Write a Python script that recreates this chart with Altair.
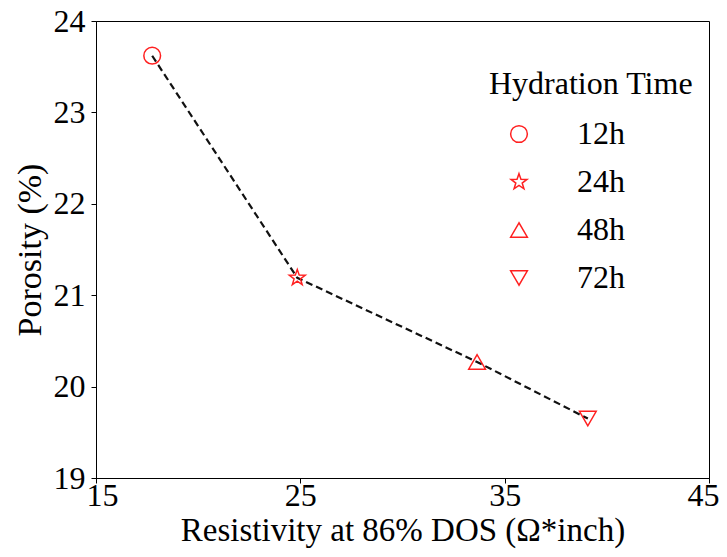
import altair as alt
import pandas as pd

# Data
hydration = ["12h", "24h", "48h", "72h"]
resistivity = [17.75, 24.85, 33.65, 39.07]
porosity = [23.62, 21.19, 20.27, 19.65]

x_ticks = [15, 25, 35, 45]
y_ticks = [19, 20, 21, 22, 23, 24]

STAR = ("M0,-1L0.235,-0.324L0.951,-0.309L0.38,0.124L0.588,0.809L0,0.4"
        "L-0.588,0.809L-0.38,0.124L-0.951,-0.309L-0.235,-0.324Z")
shapes = ["circle", STAR, "triangle-up", "triangle-down"]

df = pd.DataFrame({"t": hydration, "x": resistivity, "y": porosity})

FONT = "Liberation Serif"

xenc = alt.X("x:Q", title="Resistivity at 86% DOS (Ω*inch)",
             scale=alt.Scale(domain=[15, 45], nice=False, zero=False),
             axis=alt.Axis(values=x_ticks, format="d", labelFlush=True, labelFlushOffset=10))
yenc = alt.Y("y:Q", title="Porosity (%)",
             scale=alt.Scale(domain=[19, 24], nice=False, zero=False),
             axis=alt.Axis(values=y_ticks, format="d", labelFlush=False))

line = alt.Chart(df).mark_line(color="#111111", strokeWidth=2.2, strokeDash=[7, 4]).encode(
    x=xenc, y=yenc, order="x:Q"
)

pts = alt.Chart(df).mark_point(filled=False, color="#ff2020", strokeWidth=1.5, size=280, opacity=1).encode(
    x=xenc, y=yenc,
    shape=alt.Shape("t:N", title="Hydration Time",
                    scale=alt.Scale(domain=hydration, range=shapes),
                    legend=alt.Legend(orient="none", legendX=393, legendY=48,
                                      symbolOffset=14, labelOffset=42,
                                      rowPadding=16, titlePadding=17,
                                      titleLimit=400, labelLimit=200,
                                      symbolSize=280, symbolStrokeWidth=1.5,
                                      symbolStrokeColor="#ff2020",
                                      symbolFillColor="transparent",
                                      padding=0)),
)

chart = (line + pts).properties(
    width=613, height=457,
    autosize=alt.AutoSizeParams(type="none"),
    padding={"left": 88, "top": 13, "right": 10, "bottom": 71},
).configure_view(
    stroke="black", strokeWidth=1
).configure_axis(
    grid=False, domainColor="black", domainWidth=1, tickColor="black", tickSize=5,
    labelFont=FONT, labelFontSize=32, labelColor="black", labelPadding=5,
    titleFont=FONT, titleFontSize=34, titleColor="black", titleFontWeight="normal",
).configure_axisY(
    titlePadding=6, labelPadding=6
).configure_axisX(
    titlePadding=3, labelPadding=-3, titleFontSize=33
).configure_legend(
    titleFont=FONT, titleFontSize=32, titleFontWeight="normal", titleColor="black",
    labelFont=FONT, labelFontSize=32, labelColor="black",
)

chart.save("out.html", embed_options={"renderer": "svg", "actions": False})
